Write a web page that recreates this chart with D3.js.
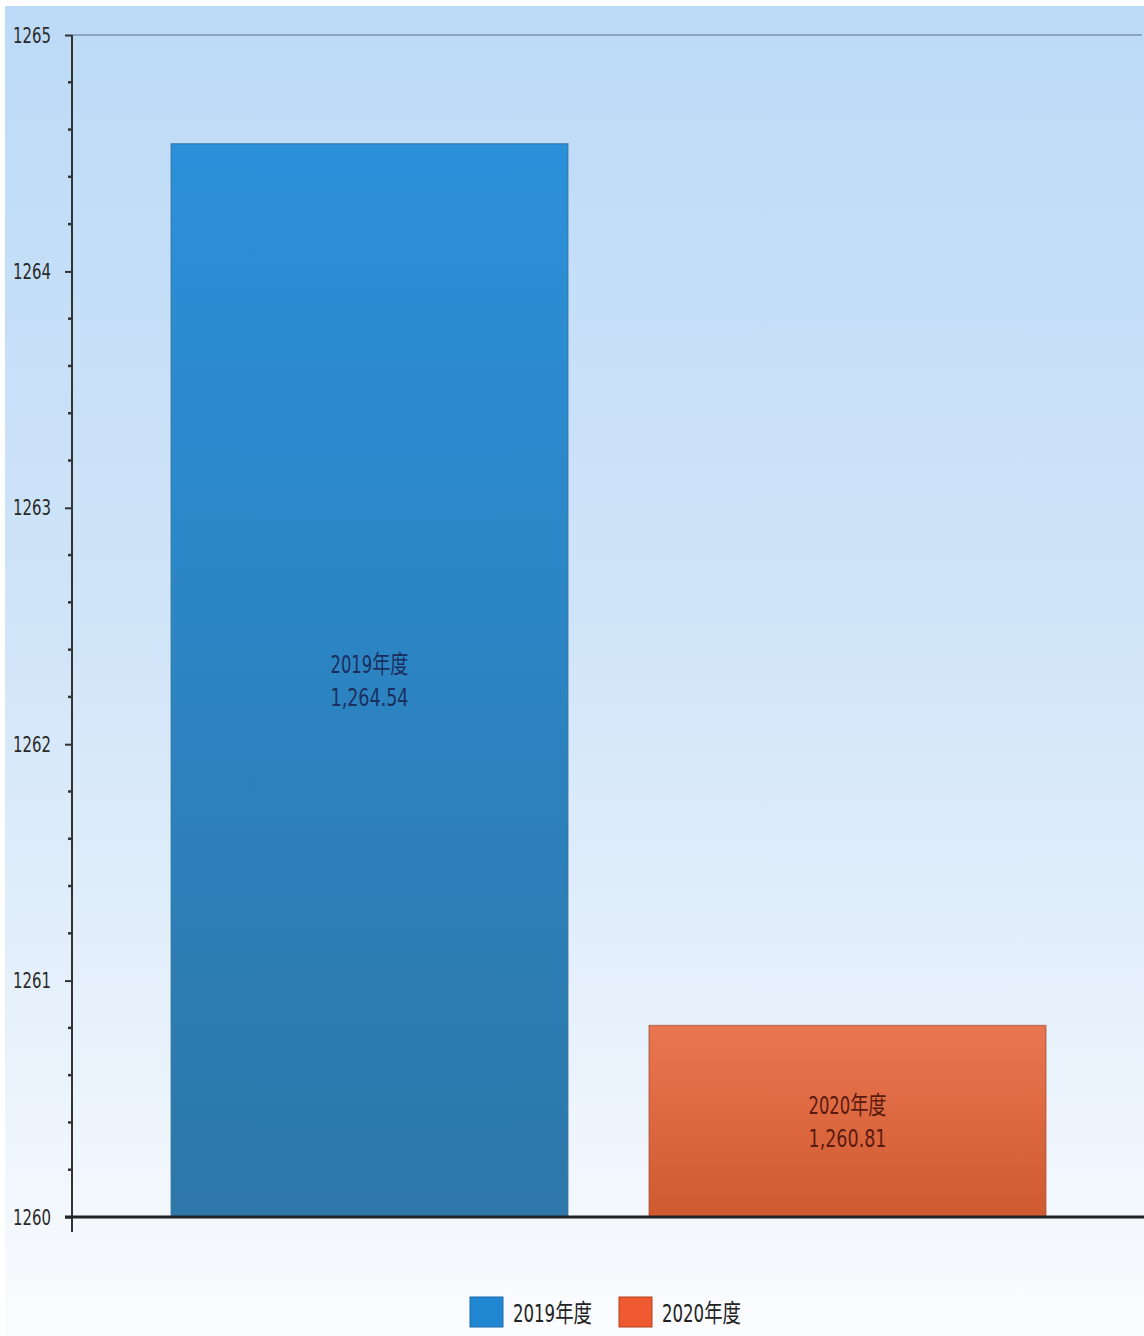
<!DOCTYPE html>
<html>
<head>
<meta charset="utf-8">
<script src="https://cdn.jsdelivr.net/npm/d3@7"></script>
<style>
  body { margin: 0; background: #fff; }
  text { font-family: "Liberation Sans Narrow", "DejaVu Sans Condensed", "Noto Sans CJK SC", sans-serif; }
</style>
</head>
<body>
<div class="chart_area"></div>
<script>
var categories = ["2019年度", "2020年度"];
var values = [1264.54, 1260.81];
var valueLabels = ["1,264.54", "1,260.81"];
var yTicks = [1260, 1261, 1262, 1263, 1264, 1265];

var W = 1144, H = 1336;
var margin = {top: 35, left: 72, bottom: 119};
var plotH = H - margin.top - margin.bottom;

var svg = d3.select(".chart_area")
  .append("svg")
  .attr("width", W)
  .attr("height", H);

var defs = svg.append("defs");

var bg = defs.append("linearGradient").attr("id", "bg")
  .attr("x1", 0).attr("y1", 0).attr("x2", 0).attr("y2", 1);
bg.append("stop").attr("offset", "0%").attr("stop-color", "#bcdaf7");
bg.append("stop").attr("offset", "45%").attr("stop-color", "#cfe4f8");
bg.append("stop").attr("offset", "80%").attr("stop-color", "#eaf3fc");
bg.append("stop").attr("offset", "100%").attr("stop-color", "#fbfcfe");

var colors = [["#2b90da", "#2d77a9"], ["#ea7650", "#cf5a30"]];
colors.forEach(function(c, i) {
  var g = defs.append("linearGradient").attr("id", "bar" + i)
    .attr("x1", 0).attr("y1", 0).attr("x2", 0).attr("y2", 1);
  g.append("stop").attr("offset", "0%").attr("stop-color", c[0]);
  g.append("stop").attr("offset", "100%").attr("stop-color", c[1]);
});

// background
svg.append("rect")
  .attr("x", 5).attr("y", 6)
  .attr("width", W - 5).attr("height", H - 6)
  .style("fill", "url(#bg)");

var y = d3.scaleLinear()
  .domain([1260, 1265])
  .range([margin.top + plotH, margin.top]);

var x = d3.scaleBand()
  .domain(categories)
  .range([130.5, 1086.5])
  .paddingInner(0.17)
  .paddingOuter(0.085);

// top grid line
svg.append("line")
  .attr("x1", margin.left).attr("x2", W - 2)
  .attr("y1", y(1265)).attr("y2", y(1265))
  .style("stroke", "#8aa6c2").style("stroke-width", 2);

// bars
var bars = svg.selectAll(".bar")
  .data(values)
  .enter()
  .append("g");

bars.append("rect")
  .attr("x", function(d, i) { return x(categories[i]); })
  .attr("y", function(d) { return y(d); })
  .attr("width", x.bandwidth())
  .attr("height", function(d) { return y(1260) - y(d); })
  .style("fill", function(d, i) { return "url(#bar" + i + ")"; })
  .style("stroke", function(d, i) { return i == 0 ? "#2a6a98" : "#a84a2a"; })
  .style("stroke-opacity", 0.6)
  .style("stroke-width", 1.5);

bars.append("text")
  .attr("x", function(d, i) { return x(categories[i]) + x.bandwidth() / 2; })
  .attr("y", function(d) { return (y(d) + y(1260)) / 2 - 7; })
  .attr("text-anchor", "middle")
  .attr("textLength", 78)
  .attr("lengthAdjust", "spacingAndGlyphs")
  .style("font-size", "25px")
  .style("fill", function(d, i) { return i == 0 ? "#1b2f5e" : "#5a1a10"; })
  .text(function(d, i) { return categories[i]; });

bars.append("text")
  .attr("x", function(d, i) { return x(categories[i]) + x.bandwidth() / 2; })
  .attr("y", function(d) { return (y(d) + y(1260)) / 2 + 26; })
  .attr("text-anchor", "middle")
  .attr("textLength", 78)
  .attr("lengthAdjust", "spacingAndGlyphs")
  .style("font-size", "25px")
  .style("fill", function(d, i) { return i == 0 ? "#1b2f5e" : "#5a1a10"; })
  .text(function(d, i) { return valueLabels[i]; });

// y axis
var yAxis = d3.axisLeft(y)
  .tickValues(yTicks)
  .tickSize(7)
  .tickPadding(14)
  .tickFormat(d3.format("d"));

var ax = svg.append("g")
  .attr("transform", "translate(" + margin.left + ",0)")
  .call(yAxis);
ax.select(".domain").remove();
ax.selectAll("line").style("stroke", "#333").style("stroke-width", 2);
ax.selectAll("text")
  .attr("textLength", 38)
  .attr("lengthAdjust", "spacingAndGlyphs")
  .style("font-size", "22px")
  .style("fill", "#2a2a2a");

// minor ticks
var minor = d3.range(0, 25).map(function(i) { return 1260 + i * 0.2; })
  .filter(function(v, i) { return i % 5 != 0; });
svg.selectAll(".minor")
  .data(minor)
  .enter()
  .append("line")
  .attr("x1", margin.left - 4).attr("x2", margin.left)
  .attr("y1", function(d) { return y(d); })
  .attr("y2", function(d) { return y(d); })
  .style("stroke", "#333").style("stroke-width", 2.5);

svg.append("line")
  .attr("x1", margin.left).attr("x2", margin.left)
  .attr("y1", y(1265)).attr("y2", y(1260) + 15)
  .style("stroke", "#333").style("stroke-width", 2);

// baseline
svg.append("line")
  .attr("x1", margin.left - 7).attr("x2", W)
  .attr("y1", y(1260)).attr("y2", y(1260))
  .style("stroke", "#222").style("stroke-width", 3);

// legend
var legendX = [470, 619];
var legend = svg.selectAll(".legend")
  .data(categories)
  .enter()
  .append("g")
  .attr("transform", function(d, i) { return "translate(" + legendX[i] + ",1297)"; });

legend.append("rect")
  .attr("width", 33).attr("height", 30)
  .style("fill", function(d, i) { return i == 0 ? "#2187d3" : "#f05a30"; })
  .style("stroke", function(d, i) { return i == 0 ? "#1d6aa8" : "#b04020"; })
  .style("stroke-width", 1);

legend.append("text")
  .attr("x", 43).attr("y", 25)
  .attr("textLength", 79)
  .attr("lengthAdjust", "spacingAndGlyphs")
  .style("font-size", "25px")
  .style("fill", "#222")
  .text(function(d) { return d; });
</script>
</body>
</html>
